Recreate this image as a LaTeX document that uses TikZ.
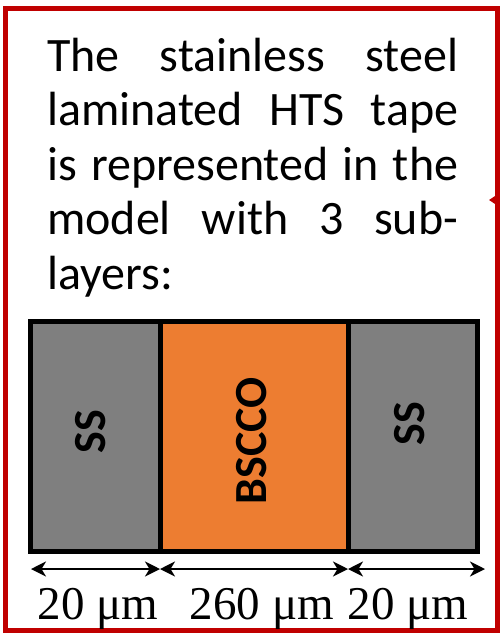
\documentclass[tikz,border=0pt]{standalone}
\usepackage{fontspec}
\setmainfont{Carlito}
\newfontfamily\serifnum{Liberation Serif}
\usetikzlibrary{arrows.meta}
\definecolor{frameRed}{HTML}{C00000}
\definecolor{steelGray}{HTML}{7F7F7F}
\definecolor{bsccoOrange}{HTML}{ED7D31}
\tikzset{
  layerbox/.style={draw=black, line width=5pt, inner sep=0pt, minimum height=230pt},
  layerlabel/.style={font=\fontsize{46}{46}\selectfont\bfseries, rotate=90, inner sep=0pt},
  dimline/.style={line width=2.2pt, {Stealth[length=15pt,width=15pt,inset=4.5pt]}-{Stealth[length=15pt,width=15pt,inset=4.5pt]}},
  dimlabel/.style={font=\serifnum\fontsize{47}{47}\selectfont, anchor=base, inner sep=0pt}
}
\newcommand{\jline}[1]{\makebox[411pt][s]{#1}}
\begin{document}
\begin{tikzpicture}[x=1pt,y=-1pt]
  \useasboundingbox (0,0) rectangle (500,634);
  % outer frame
  \draw[frameRed, line width=5pt] (5,9) rectangle (497,630);
  \fill[frameRed] (489,200) -- (495,196) -- (495,204) -- cycle;

  % description text (anchored on the baseline of its last line)
  \node[anchor=base west, inner sep=0pt, align=left,
        font=\fontsize{48}{54.5}\selectfont] (desc) at (47,289)
    {\jline{The stainless steel}\\
     \jline{laminated HTS tape}\\
     \jline{is represented in the}\\
     \jline{model with 3 sub-}\\
     layers:};

  % the three sub-layers
  \node[layerbox, fill=steelGray, minimum width=130pt] (ssL) at (95,436) {};
  \node[layerbox, fill=bsccoOrange, minimum width=188pt] (bscco) at (254,436) {};
  \node[layerbox, fill=steelGray, minimum width=129pt] (ssR) at (412.5,436) {};

  \node[layerlabel] (ssLtext) at (91,432) {SS};
  \node[layerlabel] (bsccotext) at (252,441) {BSCCO};
  \node[layerlabel] (ssRtext) at (410,424) {SS};

  % thickness dimensions
  \coordinate (d0) at (31,569);
  \coordinate (d1) at (160,569);
  \coordinate (d2) at (348,569);
  \coordinate (d3) at (485,569);
  \draw[dimline] (d0) -- (d1);
  \draw[dimline] (d1) -- (d2);
  \draw[dimline] (d2) -- (d3);

  \node[dimlabel] (w1) at (98,619) {20 μm};
  \node[dimlabel] (w2) at (262,619) {260 μm};
  \node[dimlabel] (w3) at (408,619) {20 μm};
\end{tikzpicture}
\end{document}
